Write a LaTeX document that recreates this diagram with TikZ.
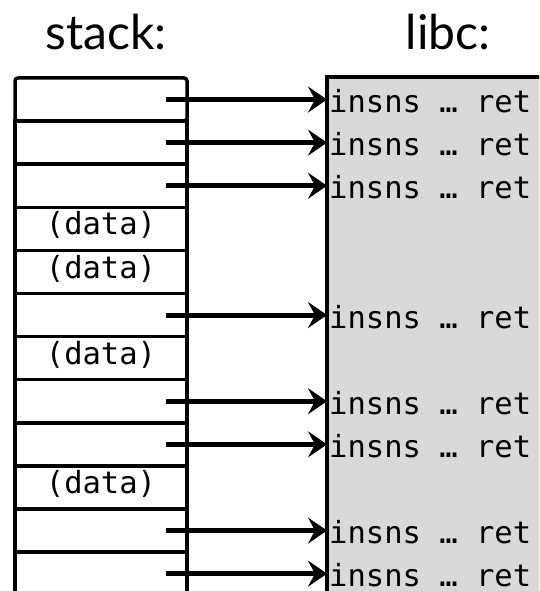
\documentclass[tikz,border=0pt]{standalone}
\usepackage{fontspec}
\setmainfont{Lato}
\newfontfamily\codefont{DejaVu Sans Mono}[Scale=1]
\usetikzlibrary{arrows.meta}
\definecolor{libcgray}{RGB}{217,217,217}

\begin{document}
\begin{tikzpicture}[x=1pt,y=-1pt,
  cell/.style={draw, line width=3.5pt, minimum width=172pt, minimum height=43.1pt,
               inner sep=0pt, outer sep=0pt, anchor=north west},
  code/.style={anchor=base west, inner sep=0pt, font=\codefont\fontsize{30.5}{36}\selectfont},
  datum/.style={inner sep=0pt, font=\codefont\fontsize{30.5}{36}\selectfont},
  ptr/.style={line width=5pt, -{Stealth[length=19pt,width=26pt,inset=7pt]}},
  heading/.style={anchor=base, inner sep=0pt, font=\fontsize{48}{56}\selectfont}]

\useasboundingbox (0,0) rectangle (539,591);
\clip (0,0) rectangle (539,591);

% headings
\node[heading] (hstack) at (106,50) {stack:};
\node[heading] (hlibc)  at (448,50) {libc:};

% libc code region, running off the right and bottom edges
\fill[libcgray] (327,77) rectangle (600,640);
\draw[line width=3.5pt] (600,77) -- (327,77) coordinate (libc) -- (327,640);

% stack slots, top to bottom (the top slot has softened corners)
\node[cell, rounded corners=3pt] (s1) at (15,78) {};
\foreach \i in {2,...,12}
  \node[cell] (s\i) at (15,{78+43.1*(\i-1)}) {};

% data slots
\foreach \i in {4,5,7,10}
  \node[datum] (d\i) at ([yshift=3.5pt]s\i.center) {(data)};

% return addresses pointing into libc gadgets
\foreach \i in {1,2,3,6,8,9,11,12} {
  \node[code] (g\i) at ([yshift=-13pt]s\i.east -| libc) {\hspace{2pt}insns … ret};
  \draw[ptr] ([xshift=-21pt]s\i.east) -- (s\i.east -| libc);
}
\end{tikzpicture}
\end{document}
